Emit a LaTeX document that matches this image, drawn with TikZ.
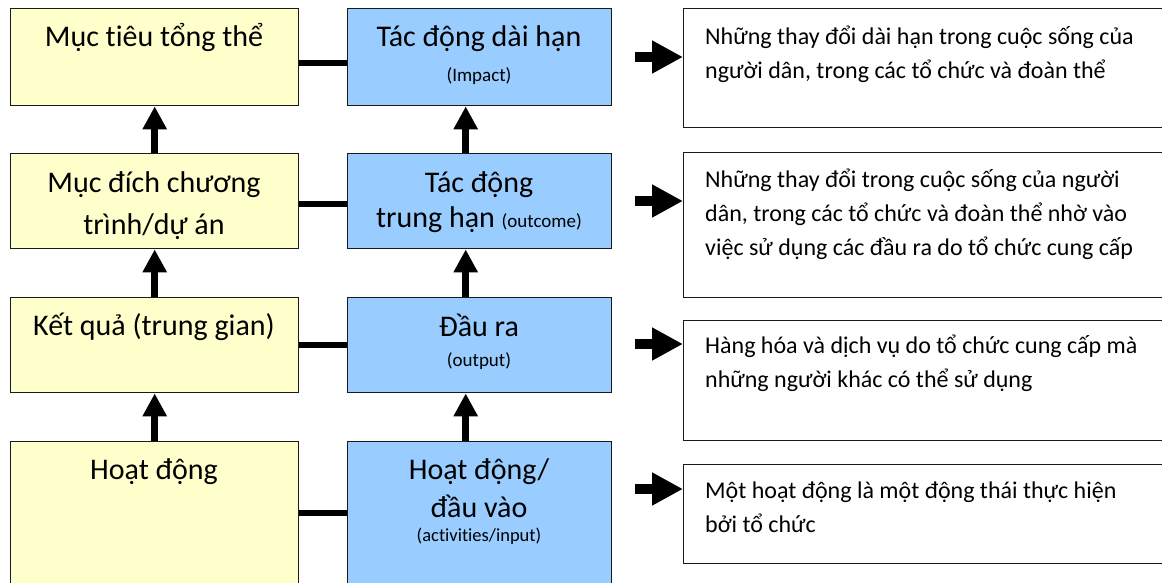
\documentclass[tikz,border=0pt]{standalone}
\usepackage{fontspec}
\setmainfont{Carlito}[Ligatures={NoCommon}]
\usetikzlibrary{arrows.meta}
\definecolor{ylw}{HTML}{FFFFCC}
\definecolor{blu}{HTML}{99CCFF}
\definecolor{edge}{HTML}{1A1A1A}
\begin{document}
\begin{tikzpicture}[x=1pt,y=-1pt,
  box/.style={draw=edge, line width=1.4pt, inner sep=0pt, anchor=north west},
  ybox/.style={box, fill=ylw},
  bbox/.style={box, fill=blu},
  wbox/.style={box, fill=white},
  conn/.style={line width=6pt},
  uparr/.style={line width=7pt, -{Triangle[length=23pt,width=23pt]}},
  rarr/.style={line width=10pt, -{Triangle[length=31pt,width=31pt]}},
  big/.style={font=\fontsize{30}{42}\selectfont, align=center, anchor=base, inner sep=0pt},
  small/.style={font=\fontsize{19}{22}\selectfont, anchor=base, inner sep=0pt},
  desc/.style={font=\fontsize{24}{34}\selectfont, align=left, anchor=base west, inner sep=0pt}
]
\useasboundingbox (0,0) rectangle (1162,582);
\clip (0,0) rectangle (1162,582);
% left column
\node[ybox, minimum width=288pt, minimum height=97pt] (y1) at (10,8) {};
\node[ybox, minimum width=288pt, minimum height=95pt] (y2) at (10,153) {};
\node[ybox, minimum width=288pt, minimum height=95pt] (y3) at (10,297) {};
\node[ybox, minimum width=288pt, minimum height=200pt] (y4) at (10,441) {};
% blue column
\node[bbox, minimum width=264pt, minimum height=97pt] (b1) at (347,8) {};
\node[bbox, minimum width=264pt, minimum height=95pt] (b2) at (347,153) {};
\node[bbox, minimum width=264pt, minimum height=95pt] (b3) at (347,297) {};
\node[bbox, minimum width=264pt, minimum height=200pt] (b4) at (347,441) {};
% right column
\node[wbox, minimum width=520pt, minimum height=119pt] (r1) at (683,8) {};
\node[wbox, minimum width=520pt, minimum height=145pt] (r2) at (683,152) {};
\node[wbox, minimum width=520pt, minimum height=120pt] (r3) at (683,320) {};
\node[wbox, minimum width=520pt, minimum height=99pt] (r4) at (683,464) {};
% texts left (anchor base = baseline of last line)
\node[big] (ty1) at (154,46) {Mục tiêu tổng thể};
\node[big] (ty2) at (154,234) {Mục đích chương\\trình/dự án};
\node[big] (ty3) at (154,335) {Kết quả (trung gian)};
\node[big] (ty4) at (154,479) {Hoạt động};
% texts blue
\node[big] (tb1) at (479,46) {Tác động dài hạn};
\node[small] (sb1) at (479,81) {(Impact)};
\node[big] (tb2) at (479,192) {Tác động};
\node[big] (tb2b) at (479,227) {trung hạn {\fontsize{19}{22}\selectfont(outcome)}};
\node[big] (tb3) at (479,336) {Đầu ra};
\node[small] (sb3) at (479,366) {(output)};
\node[big] (tb4) at (479,517) {Hoạt động/\\[-4pt]đầu vào};
\node[small, font=\fontsize{18.5}{21}\selectfont] (sb4) at (479,541) {(activities/input)};
% texts right
\node[desc] (tr1) at (705,78) {Những thay đổi dài hạn trong cuộc sống của\\người dân, trong các tổ chức và đoàn thể};
\node[desc] (tr2) at (705,255) {Những thay đổi trong cuộc sống của người\\dân, trong các tổ chức và đoàn thể nhờ vào\\việc sử dụng các đầu ra do tổ chức cung cấp};
\node[desc] (tr3) at (705,387) {Hàng hóa và dịch vụ do tổ chức cung cấp mà\\những người khác có thể sử dụng};
\node[desc] (tr4) at (705,532) {Một hoạt động là một động thái thực hiện\\bởi tổ chức};
% horizontal connectors
\draw[conn] ([yshift=-5.5pt]y1.east) -- ([yshift=-5.5pt]b1.west);
\draw[conn] ([yshift=-2.5pt]y2.east) -- ([yshift=-2.5pt]b2.west);
\draw[conn] (y3.east) -- (b3.west);
\draw[conn] ([yshift=29pt]y4.east) -- ([yshift=29pt]b4.west);
% vertical arrows
\draw[uparr] (y2.north) -- (y1.south);
\draw[uparr] (y3.north) -- (y2.south);
\draw[uparr] (y4.north) -- (y3.south);
\draw[uparr] ([xshift=-14pt]b2.north) -- ([xshift=-14pt]b1.south);
\draw[uparr] ([xshift=-14pt]b3.north) -- ([xshift=-14pt]b2.south);
\draw[uparr] ([xshift=-14pt]b4.north) -- ([xshift=-14pt]b3.south);
% right arrows
\coordinate (a1) at (635,57);
\coordinate (a2) at (635,201);
\coordinate (a3) at (635,344);
\coordinate (a4) at (635,489);
\draw[rarr] (a1) -- (r1.west |- a1);
\draw[rarr] (a2) -- (r2.west |- a2);
\draw[rarr] (a3) -- (r3.west |- a3);
\draw[rarr] (a4) -- (r4.west |- a4);
\end{tikzpicture}
\end{document}
